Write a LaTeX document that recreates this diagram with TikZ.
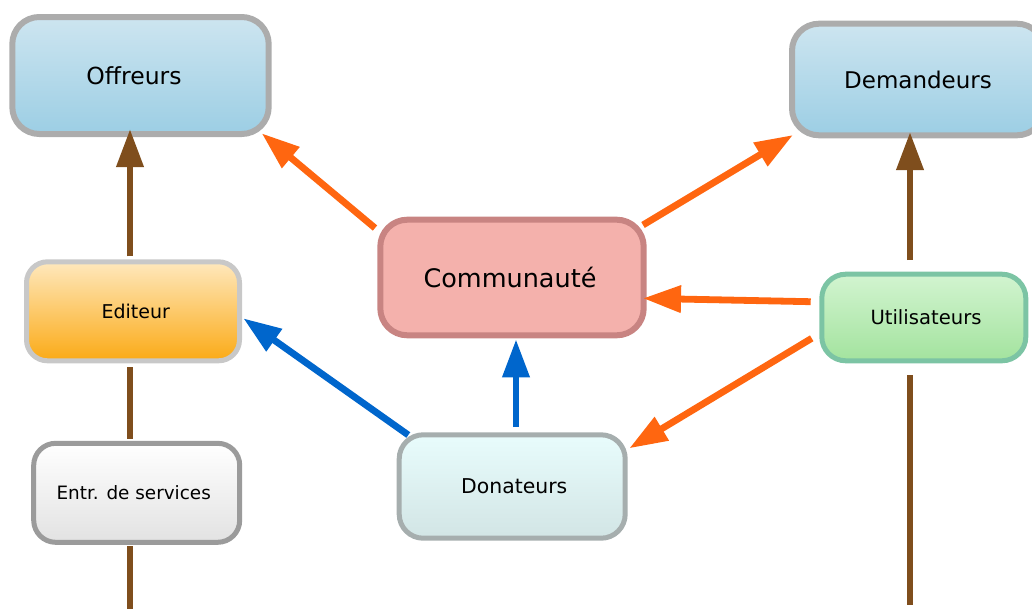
\documentclass[tikz,border=0pt]{standalone}
\usepackage{fontspec}
\setmainfont{DejaVu Sans}
\usetikzlibrary{arrows.meta}

\definecolor{linkbrown}{RGB}{127,78,29}
\definecolor{linkorange}{RGB}{255,102,16}
\definecolor{linkblue}{RGB}{0,102,204}
\definecolor{skytop}{RGB}{205,229,240}
\definecolor{skybot}{RGB}{156,206,228}
\definecolor{skyline}{RGB}{172,172,172}
\definecolor{ambertop}{RGB}{254,232,189}
\definecolor{amberbot}{RGB}{251,170,22}
\definecolor{amberline}{RGB}{200,200,200}
\definecolor{greytop}{RGB}{255,255,255}
\definecolor{greybot}{RGB}{226,226,226}
\definecolor{greyline}{RGB}{155,155,155}
\definecolor{rosefill}{RGB}{244,177,172}
\definecolor{roseline}{RGB}{200,132,130}
\definecolor{aquatop}{RGB}{232,252,252}
\definecolor{aquabot}{RGB}{210,229,229}
\definecolor{aqualine}{RGB}{166,174,174}
\definecolor{mintop}{RGB}{210,244,208}
\definecolor{minbot}{RGB}{163,227,158}
\definecolor{minline}{RGB}{124,196,164}

\newcommand{\fs}[1]{\fontsize{#1}{1.2\dimexpr#1\relax}\selectfont}

\begin{document}
\begin{tikzpicture}[x=1pt,y=-1pt,
  box/.style={draw, rounded corners=24pt, inner sep=0pt, align=center},
  rolebox/.style={box, line width=6pt, draw=skyline, top color=skytop, bottom color=skybot, rounded corners=27pt},
  link/.style={line width=6.8pt},
  head/.style={-{Triangle[length=38pt,width=26pt]}},
  brownlink/.style={link, draw=linkbrown},
  orangelink/.style={link, draw=linkorange, head},
  bluelink/.style={link, draw=linkblue, head}
]
\useasboundingbox (0,0) rectangle (1032,608);
\clip (0,0) rectangle (1032,608);

% boxes
\node[rolebox, minimum width=256.4pt, minimum height=117pt, font=\fs{23.5pt}]
  (off) at (140.5,75.5) {Offreurs\hspace*{13pt}};
\node[rolebox, minimum width=252pt, minimum height=111.6pt, font=\fs{23pt}]
  (dem) at (918,79.5) {Demandeurs};
\node[box, line width=5pt, draw=amberline, top color=ambertop, bottom color=amberbot,
  minimum width=213pt, minimum height=99pt, rounded corners=21pt, font=\fs{19pt}]
  (edit) at (133,311.3) {\hspace*{5.6pt}Editeur};
\node[box, line width=5pt, draw=greyline, top color=greytop, bottom color=greybot,
  minimum width=206pt, minimum height=99pt, rounded corners=22pt, font=\fs{18.4pt}]
  (entr) at (136.7,492.8) {Entr. de services\hspace*{6pt}};
\node[box, line width=6pt, draw=roseline, fill=rosefill,
  minimum width=263.4pt, minimum height=115.6pt, rounded corners=27pt, font=\fs{25.5pt}]
  (comm) at (512,277.5) {Communauté\hspace*{4pt}};
\node[box, line width=5pt, draw=aqualine, top color=aquatop, bottom color=aquabot,
  minimum width=226pt, minimum height=103.4pt, font=\fs{20.4pt}]
  (don) at (512.2,486.5) {\hspace*{4pt}Donateurs};
\node[box, line width=5pt, draw=minline, top color=mintop, bottom color=minbot,
  minimum width=204pt, minimum height=86.6pt, font=\fs{19.6pt}]
  (util) at (923.8,317.5) {\hspace*{4.4pt}Utilisateurs};

% loose ends of the vertical chains
\coordinate (leftend) at (130,612);
\coordinate (rightend) at (910,605);

% brown chains
\draw[brownlink, head] ([shift={(-3,-3)}]edit.north) -- ([shift={(-10.5,-8)}]off.south);
\draw[brownlink] ([shift={(-3,4)}]edit.south) -- ([shift={(-6.7,-1.8)}]entr.north);
\draw[brownlink] ([shift={(-6.7,1.5)}]entr.south) -- (leftend);
\draw[brownlink, head] ([shift={(-13.8,-11.7)}]util.north) -- ([shift={(-8,-6.3)}]dem.south);
\draw[brownlink] ([shift={(-13.8,11.7)}]util.south) -- (rightend);

% orange links
\draw[orangelink] ([shift={(-2.3,11.3)}]comm.north west) -- ([shift={(-10,-3.7)}]off.south east);
\draw[orangelink] ([shift={(-3.7,8.3)}]comm.north east) -- ([shift={(4,-3.3)}]dem.south west);
\draw[orangelink] ([shift={(-8.6,-15.8)}]util.west) -- ([shift={(-3.7,20.8)}]comm.east);
\draw[orangelink] ([shift={(-7.6,20.8)}]util.west) -- ([shift={(1.6,16)}]don.north east);

% blue links
\draw[bluelink] ([shift={(11.6,2.7)}]don.north west) -- ([shift={(1.3,7)}]edit.east);
\draw[bluelink] ([shift={(3.8,-5.3)}]don.north) -- ([shift={(4,1)}]comm.south);
\end{tikzpicture}
\end{document}
